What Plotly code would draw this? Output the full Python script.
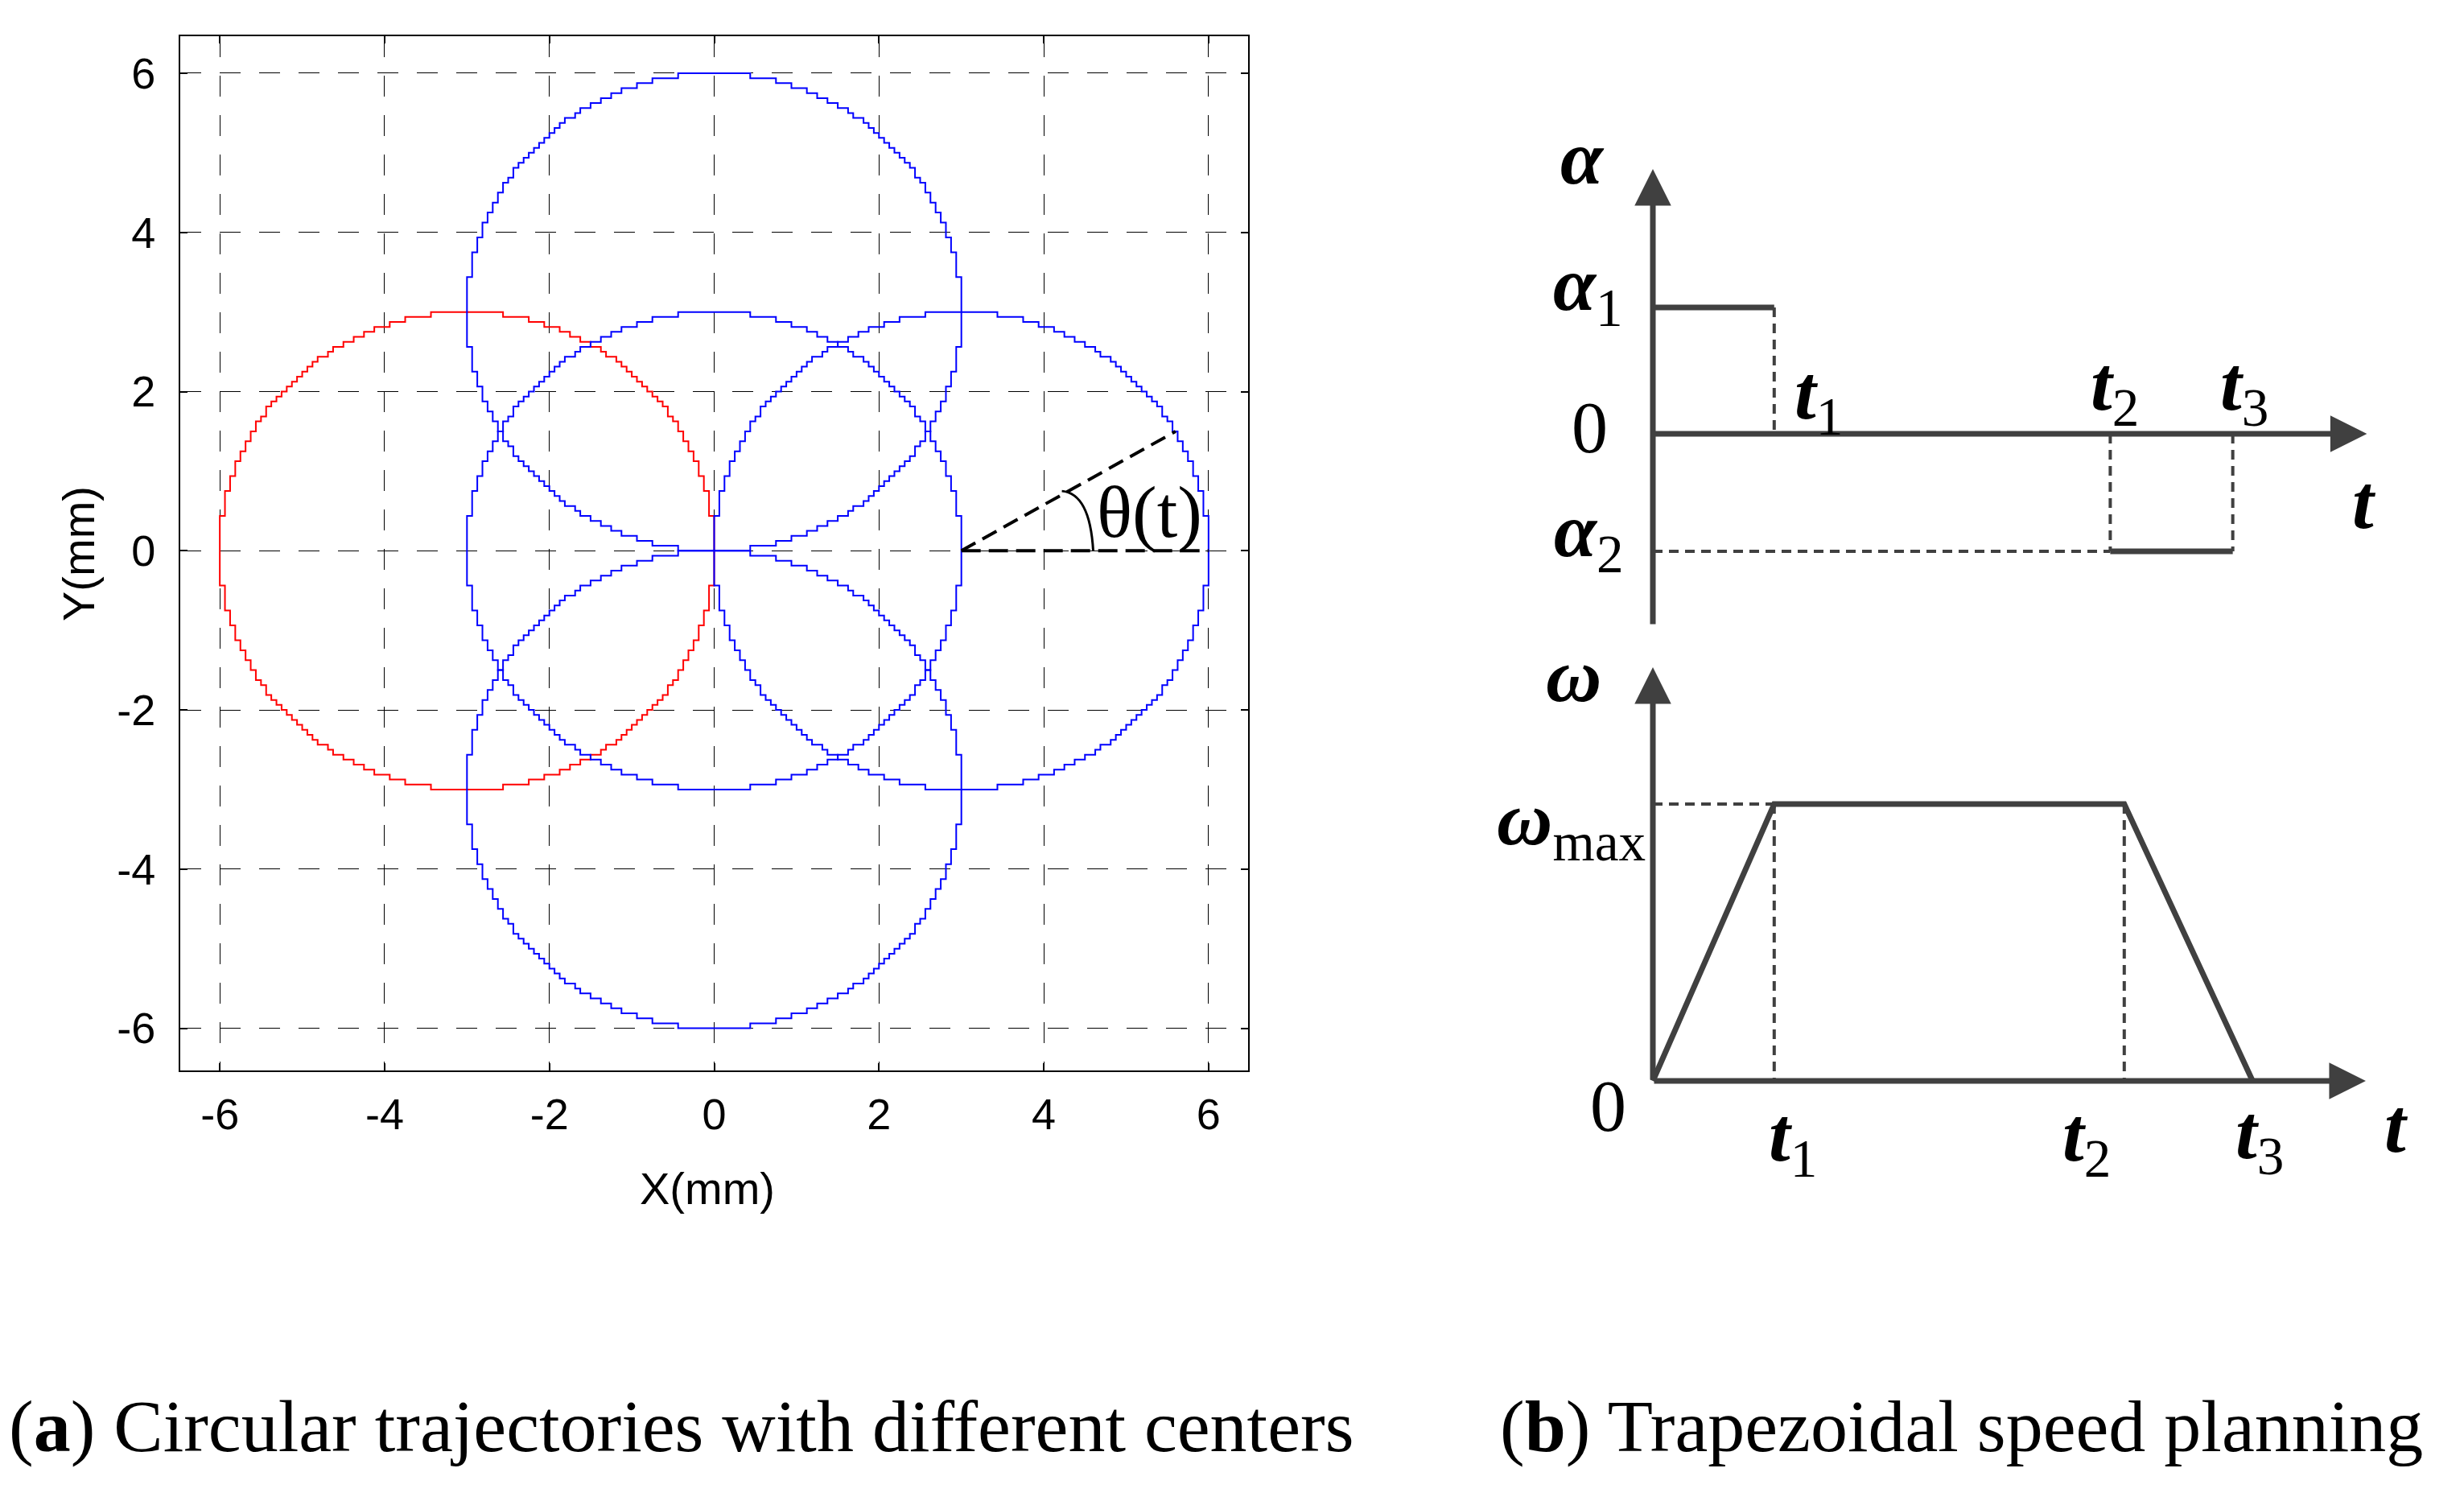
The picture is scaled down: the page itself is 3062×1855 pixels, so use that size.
import numpy as np
import plotly.graph_objects as go

W, H = 3062, 1855

# ---------------- data: panel (a) ----------------
circle_cx = [-3, 0, 0, 0, 3]
circle_cy = [0, 0, 3, -3, 0]
circle_r = [3, 3, 3, 3, 3]
circle_colors = ["#FF0000", "#0000FF", "#0000FF", "#0000FF", "#0000FF"]
x_ticks = [-6, -4, -2, 0, 2, 4, 6]
x_tick_text = ["-6", "-4", "-2", "0", "2", "4", "6"]
y_ticks = [-6, -4, -2, 0, 2, 4, 6]
y_tick_text = ["-6", "-4", "-2", "0", "2", "4", "6"]
theta_vertex = [3, 0]
theta_end = [5.6, 1.5]
theta_ref_end = [6, 0]
step_res = 0.0625  # trajectory resolution (stair steps)

# ---------------- data: panel (b) ----------------
t_top = [0, 1.04, 3.92, 4.97]        # 0, t1, t2, t3 (acceleration plot)
alpha_levels = [1.026, -0.954]       # alpha1, alpha2
t_bot = [0, 1.04, 4.04, 5.14]        # 0, t1, t2, t3 (speed plot)
omega_max = 1.0
top_axis_ext = [-1.556, 2.15, 6.12]  # y-bottom, y-arrow tip, t-arrow tip
bot_axis_ext = [1.494, 6.11]         # y-arrow tip, t-arrow tip

fig = go.Figure()

# ---- circles ----
ang = np.linspace(0, 2 * np.pi, 3001)
for cx, cy, r, col in zip(circle_cx, circle_cy, circle_r, circle_colors):
    xs = np.round((cx + r * np.cos(ang)) / step_res) * step_res
    ys = np.round((cy + r * np.sin(ang)) / step_res) * step_res
    fig.add_trace(go.Scatter(x=xs, y=ys, mode="lines",
                             line=dict(color=col, width=2),
                             xaxis="x", yaxis="y", showlegend=False,
                             hoverinfo="skip"))

# ---- theta construction lines ----
fig.add_trace(go.Scatter(x=[theta_vertex[0], theta_end[0]],
                         y=[theta_vertex[1], theta_end[1]],
                         mode="lines", line=dict(color="black", width=4, dash="20px,10px"),
                         xaxis="x", yaxis="y", showlegend=False, hoverinfo="skip"))
fig.add_trace(go.Scatter(x=[theta_vertex[0], theta_ref_end[0]],
                         y=[theta_vertex[1], theta_ref_end[1]],
                         mode="lines", line=dict(color="black", width=4, dash="24px,10px"),
                         xaxis="x", yaxis="y", showlegend=False, hoverinfo="skip"))

# ---- panel (b) lines ----
DG = "#404040"
t0, t1, t2, t3 = t_top
a1, a2 = alpha_levels
fig.add_trace(go.Scatter(x=[t0, t1], y=[a1, a1], mode="lines",
                         line=dict(color=DG, width=7), xaxis="x2", yaxis="y2",
                         showlegend=False, hoverinfo="skip"))
fig.add_trace(go.Scatter(x=[t2, t3], y=[a2, a2], mode="lines",
                         line=dict(color=DG, width=7), xaxis="x2", yaxis="y2",
                         showlegend=False, hoverinfo="skip"))
for xs, ys in [([t1, t1], [a1, 0]), ([t2, t2], [0, a2]), ([t3, t3], [0, a2]),
               ([t0, t2], [a2, a2])]:
    fig.add_trace(go.Scatter(x=xs, y=ys, mode="lines",
                             line=dict(color=DG, width=4, dash="12px,8px"),
                             xaxis="x2", yaxis="y2", showlegend=False, hoverinfo="skip"))

b0, b1, b2, b3 = t_bot
fig.add_trace(go.Scatter(x=[b0, b1, b2, b3], y=[0, omega_max, omega_max, 0], mode="lines",
                         line=dict(color=DG, width=7), xaxis="x3", yaxis="y3",
                         showlegend=False, hoverinfo="skip"))
for xs, ys in [([b0, b1], [omega_max, omega_max]), ([b1, b1], [omega_max, 0]),
               ([b2, b2], [omega_max, 0])]:
    fig.add_trace(go.Scatter(x=xs, y=ys, mode="lines",
                             line=dict(color=DG, width=4, dash="12px,8px"),
                             xaxis="x3", yaxis="y3", showlegend=False, hoverinfo="skip"))

annotations = []


def arrow(x0, y0, x1, y1, xr, yr):
    annotations.append(dict(x=x1, y=y1, ax=x0, ay=y0, xref=xr, yref=yr,
                            axref=xr, ayref=yr, text="", showarrow=True,
                            arrowhead=2, arrowsize=1.3, arrowwidth=7,
                            arrowcolor=DG, standoff=0, startstandoff=0))


arrow(0, top_axis_ext[0], 0, top_axis_ext[1], "x2", "y2")
arrow(0, 0, top_axis_ext[2], 0, "x2", "y2")
arrow(0, 0, 0, bot_axis_ext[0], "x3", "y3")
arrow(0, 0, bot_axis_ext[1], 0, "x3", "y3")

shapes = [dict(type="path", xref="x", yref="y",
               path="M 4.60,0 Q 4.56,0.72 4.22,0.75",
               line=dict(color="black", width=3))]

SERIF = "Liberation Serif"


def P(px, py):
    return px / W, 1 - py / H


def label(txt, px, py, size=88, font=SERIF):
    x, y = P(px, py)
    annotations.append(dict(x=x, y=y, xref="paper", yref="paper", text=txt,
                            showarrow=False, xanchor="center", yanchor="middle",
                            font=dict(family=font, size=size, color="black")))


# panel (a) text
annotations.append(dict(x=5.28, y=0.49, xref="x", yref="y", text="θ(t)",
                        showarrow=False, xanchor="center", yanchor="middle",
                        font=dict(family=SERIF, size=92, color="black")))
label("X(mm)", 871, 1468, size=56, font="Liberation Sans")
xa, ya = P(90, 680)
annotations.append(dict(x=xa, y=ya, xref="paper", yref="paper", text="Y(mm)",
                        textangle=-90, showarrow=False, xanchor="center", yanchor="middle",
                        font=dict(family="Liberation Sans", size=56, color="black")))

# panel (b) text
label("<b><i>α</i></b>", 1958, 188, size=96)
label("<b><i>α</i></b><sub>1</sub>", 1965, 351, size=96)
label("0", 1967, 523, size=90)
label("<b><i>α</i></b><sub>2</sub>", 1966, 658, size=96)
label("<b><i>t</i></b><sub>1</sub>", 2252, 486, size=96)
label("<b><i>t</i></b><sub>2</sub>", 2620, 476, size=96)
label("<b><i>t</i></b><sub>3</sub>", 2781, 476, size=96)
label("<b><i>t</i></b>", 2930, 615, size=96)
label("<b><i>ω</i></b>", 1947, 830, size=96)
label("<b><i>ω</i></b><sub>max</sub>", 1944, 1015, size=96)
label("0", 1990, 1366, size=90)
label("<b><i>t</i></b><sub>1</sub>", 2220, 1408, size=96)
label("<b><i>t</i></b><sub>2</sub>", 2585, 1408, size=96)
label("<b><i>t</i></b><sub>3</sub>", 2800, 1405, size=96)
label("<b><i>t</i></b>", 2970, 1390, size=96)

# captions
label("(<b>a</b>) Circular trajectories with different centers", 838, 1764, size=92)
label("(<b>b</b>) Trapezoidal speed planning", 2429, 1764, size=92)

# ---- layout ----
ax_common = dict(showline=True, linecolor="black", linewidth=2, mirror="ticks",
                 ticks="inside", ticklen=9, tickcolor="black", tickwidth=1.5,
                 showgrid=True, gridcolor="black", gridwidth=1.2, griddash="26px,23px",
                 zeroline=False, tickfont=dict(family="Liberation Sans", size=54, color="black"))

x_dom = [216 / W, 1543 / W]
y_dom = [1 - 1322 / H, 1 - 36.5 / H]

rx0 = 0.6
ox = 2046
ppu = 145.0
top_py = (100, 800)
top_zero, top_ppu = 531, 153.0
bot_py = (780, 1500)
bot_zero, bot_ppu = 1335, 344.0

fig.update_layout(
    width=W, height=H, margin=dict(l=0, r=0, t=0, b=0),
    paper_bgcolor="white", plot_bgcolor="white", showlegend=False,
    xaxis=dict(domain=x_dom, range=[-6.48, 6.48], tickvals=x_ticks, ticktext=x_tick_text,
               anchor="y", ticklabelstandoff=6, **ax_common),
    yaxis=dict(domain=y_dom, range=[-6.53, 6.47], tickvals=y_ticks, ticktext=y_tick_text,
               anchor="x", ticklabelstandoff=18, **ax_common),
    xaxis2=dict(domain=[rx0, 1.0], range=[(rx0 * W - ox) / ppu, (W - ox) / ppu],
                visible=False, anchor="y2"),
    yaxis2=dict(domain=[1 - top_py[1] / H, 1 - top_py[0] / H],
                range=[(top_zero - top_py[1]) / top_ppu, (top_zero - top_py[0]) / top_ppu],
                visible=False, anchor="x2"),
    xaxis3=dict(domain=[rx0, 1.0], range=[(rx0 * W - ox) / ppu, (W - ox) / ppu],
                visible=False, anchor="y3"),
    yaxis3=dict(domain=[1 - bot_py[1] / H, 1 - bot_py[0] / H],
                range=[(bot_zero - bot_py[1]) / bot_ppu, (bot_zero - bot_py[0]) / bot_ppu],
                visible=False, anchor="x3"),
    annotations=annotations,
    shapes=shapes,
)

fig.write_html("out.html")
